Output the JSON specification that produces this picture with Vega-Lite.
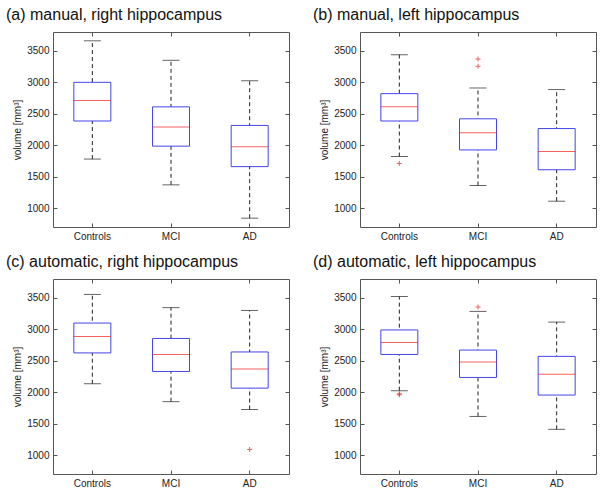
{
  "$schema": "https://vega.github.io/schema/vega-lite/v6.json",
  "padding": {"left": 5, "top": 6, "right": 5, "bottom": 5},
  "background": "white",
  "datasets": {
    "rows": [
      {"panel": "a", "group": "Controls", "kind": "box", "lo": 1780, "q1": 2385, "med": 2710, "q3": 3000, "hi": 3660},
      {"panel": "a", "group": "MCI", "kind": "box", "lo": 1370, "q1": 1985, "med": 2290, "q3": 2610, "hi": 3350},
      {"panel": "a", "group": "AD", "kind": "box", "lo": 840, "q1": 1660, "med": 1975, "q3": 2315, "hi": 3025},
      {"panel": "b", "group": "Controls", "kind": "box", "lo": 1820, "q1": 2385, "med": 2610, "q3": 2820, "hi": 3440},
      {"panel": "b", "group": "MCI", "kind": "box", "lo": 1360, "q1": 1925, "med": 2200, "q3": 2420, "hi": 2910},
      {"panel": "b", "group": "AD", "kind": "box", "lo": 1110, "q1": 1610, "med": 1900, "q3": 2265, "hi": 2885},
      {"panel": "c", "group": "Controls", "kind": "box", "lo": 2135, "q1": 2625, "med": 2885, "q3": 3100, "hi": 3555},
      {"panel": "c", "group": "MCI", "kind": "box", "lo": 1850, "q1": 2330, "med": 2600, "q3": 2855, "hi": 3345},
      {"panel": "c", "group": "AD", "kind": "box", "lo": 1725, "q1": 2065, "med": 2370, "q3": 2640, "hi": 3300},
      {"panel": "d", "group": "Controls", "kind": "box", "lo": 2025, "q1": 2600, "med": 2790, "q3": 2990, "hi": 3520},
      {"panel": "d", "group": "MCI", "kind": "box", "lo": 1615, "q1": 2235, "med": 2480, "q3": 2670, "hi": 3285},
      {"panel": "d", "group": "AD", "kind": "box", "lo": 1410, "q1": 1955, "med": 2285, "q3": 2570, "hi": 3115},
      {"panel": "b", "group": "Controls", "kind": "outlier", "value": 1710},
      {"panel": "b", "group": "MCI", "kind": "outlier", "value": 3370},
      {"panel": "b", "group": "MCI", "kind": "outlier", "value": 3255},
      {"panel": "c", "group": "AD", "kind": "outlier", "value": 1090},
      {"panel": "d", "group": "Controls", "kind": "outlier", "value": 1960},
      {"panel": "d", "group": "Controls", "kind": "outlier", "value": 1975},
      {"panel": "d", "group": "MCI", "kind": "outlier", "value": 3355}
    ]
  },
  "columns": 2,
  "spacing": {"column": 22, "row": 11},
  "concat": [
    {
      "title": {"text": "(a) manual, right hippocampus"},
      "width": 236, "height": 195,
      "data": {"name": "rows"},
      "transform": [{"filter": "datum.panel == 'a'"}],
      "encoding": {
        "x": {"field": "group", "type": "nominal", "scale": {"domain": ["Controls", "MCI", "AD"], "paddingInner": 0, "paddingOuter": 0}, "axis": null}
      },
      "layer": [
        {"transform": [{"filter": "datum.kind == 'box'"}], "mark": {"type": "rule", "strokeDash": [4, 3], "color": "#222", "strokeWidth": 1},
         "encoding": {"x": {"field": "group", "type": "nominal", "axis": {"orient": "bottom", "title": null}}, "y": {"field": "lo", "type": "quantitative", "scale": {"domain": [700, 3800], "nice": false}, "axis": {"orient": "left", "title": "volume [mm³]"}}, "y2": {"field": "hi"}}},
        {"transform": [{"filter": "datum.kind == 'box'"}], "mark": {"type": "tick", "color": "#222", "size": 17, "thickness": 1},
         "encoding": {"y": {"field": "lo", "type": "quantitative", "axis": null}}},
        {"transform": [{"filter": "datum.kind == 'box'"}], "mark": {"type": "tick", "color": "#222", "size": 17, "thickness": 1},
         "encoding": {"y": {"field": "hi", "type": "quantitative", "axis": null}}},
        {"transform": [{"filter": "datum.kind == 'box'"}], "mark": {"type": "bar", "size": 37, "fill": "white", "stroke": "#4545e8", "strokeWidth": 1},
         "encoding": {"x": {"field": "group", "type": "nominal", "axis": {"orient": "top", "title": null, "labels": false}}, "y": {"field": "q1", "type": "quantitative", "axis": {"orient": "right", "title": null, "labels": false}}, "y2": {"field": "q3"}}},
        {"transform": [{"filter": "datum.kind == 'box'"}], "mark": {"type": "tick", "color": "#f02020", "size": 37, "thickness": 1},
         "encoding": {"y": {"field": "med", "type": "quantitative", "axis": null}}},
        {"transform": [{"filter": "datum.kind == 'outlier'"}], "mark": {"type": "point", "shape": "M-1,0L1,0M0,-1L0,1", "size": 25, "filled": false, "stroke": "#e02020", "strokeWidth": 1},
         "encoding": {"y": {"field": "value", "type": "quantitative", "axis": null}}}
      ],
      "resolve": {"axis": {"x": "independent", "y": "independent"}}
    },
    {
      "title": {"text": "(b) manual, left hippocampus"},
      "width": 236, "height": 195,
      "data": {"name": "rows"},
      "transform": [{"filter": "datum.panel == 'b'"}],
      "encoding": {
        "x": {"field": "group", "type": "nominal", "scale": {"domain": ["Controls", "MCI", "AD"], "paddingInner": 0, "paddingOuter": 0}, "axis": null}
      },
      "layer": [
        {"transform": [{"filter": "datum.kind == 'box'"}], "mark": {"type": "rule", "strokeDash": [4, 3], "color": "#222", "strokeWidth": 1},
         "encoding": {"x": {"field": "group", "type": "nominal", "axis": {"orient": "bottom", "title": null}}, "y": {"field": "lo", "type": "quantitative", "scale": {"domain": [700, 3800], "nice": false}, "axis": {"orient": "left", "title": "volume [mm³]"}}, "y2": {"field": "hi"}}},
        {"transform": [{"filter": "datum.kind == 'box'"}], "mark": {"type": "tick", "color": "#222", "size": 17, "thickness": 1},
         "encoding": {"y": {"field": "lo", "type": "quantitative", "axis": null}}},
        {"transform": [{"filter": "datum.kind == 'box'"}], "mark": {"type": "tick", "color": "#222", "size": 17, "thickness": 1},
         "encoding": {"y": {"field": "hi", "type": "quantitative", "axis": null}}},
        {"transform": [{"filter": "datum.kind == 'box'"}], "mark": {"type": "bar", "size": 37, "fill": "white", "stroke": "#4545e8", "strokeWidth": 1},
         "encoding": {"x": {"field": "group", "type": "nominal", "axis": {"orient": "top", "title": null, "labels": false}}, "y": {"field": "q1", "type": "quantitative", "axis": {"orient": "right", "title": null, "labels": false}}, "y2": {"field": "q3"}}},
        {"transform": [{"filter": "datum.kind == 'box'"}], "mark": {"type": "tick", "color": "#f02020", "size": 37, "thickness": 1},
         "encoding": {"y": {"field": "med", "type": "quantitative", "axis": null}}},
        {"transform": [{"filter": "datum.kind == 'outlier'"}], "mark": {"type": "point", "shape": "M-1,0L1,0M0,-1L0,1", "size": 25, "filled": false, "stroke": "#e02020", "strokeWidth": 1},
         "encoding": {"y": {"field": "value", "type": "quantitative", "axis": null}}}
      ],
      "resolve": {"axis": {"x": "independent", "y": "independent"}}
    },
    {
      "title": {"text": "(c) automatic, right hippocampus"},
      "width": 236, "height": 195,
      "data": {"name": "rows"},
      "transform": [{"filter": "datum.panel == 'c'"}],
      "encoding": {
        "x": {"field": "group", "type": "nominal", "scale": {"domain": ["Controls", "MCI", "AD"], "paddingInner": 0, "paddingOuter": 0}, "axis": null}
      },
      "layer": [
        {"transform": [{"filter": "datum.kind == 'box'"}], "mark": {"type": "rule", "strokeDash": [4, 3], "color": "#222", "strokeWidth": 1},
         "encoding": {"x": {"field": "group", "type": "nominal", "axis": {"orient": "bottom", "title": null}}, "y": {"field": "lo", "type": "quantitative", "scale": {"domain": [700, 3800], "nice": false}, "axis": {"orient": "left", "title": "volume [mm³]"}}, "y2": {"field": "hi"}}},
        {"transform": [{"filter": "datum.kind == 'box'"}], "mark": {"type": "tick", "color": "#222", "size": 17, "thickness": 1},
         "encoding": {"y": {"field": "lo", "type": "quantitative", "axis": null}}},
        {"transform": [{"filter": "datum.kind == 'box'"}], "mark": {"type": "tick", "color": "#222", "size": 17, "thickness": 1},
         "encoding": {"y": {"field": "hi", "type": "quantitative", "axis": null}}},
        {"transform": [{"filter": "datum.kind == 'box'"}], "mark": {"type": "bar", "size": 37, "fill": "white", "stroke": "#4545e8", "strokeWidth": 1},
         "encoding": {"x": {"field": "group", "type": "nominal", "axis": {"orient": "top", "title": null, "labels": false}}, "y": {"field": "q1", "type": "quantitative", "axis": {"orient": "right", "title": null, "labels": false}}, "y2": {"field": "q3"}}},
        {"transform": [{"filter": "datum.kind == 'box'"}], "mark": {"type": "tick", "color": "#f02020", "size": 37, "thickness": 1},
         "encoding": {"y": {"field": "med", "type": "quantitative", "axis": null}}},
        {"transform": [{"filter": "datum.kind == 'outlier'"}], "mark": {"type": "point", "shape": "M-1,0L1,0M0,-1L0,1", "size": 25, "filled": false, "stroke": "#e02020", "strokeWidth": 1},
         "encoding": {"y": {"field": "value", "type": "quantitative", "axis": null}}}
      ],
      "resolve": {"axis": {"x": "independent", "y": "independent"}}
    },
    {
      "title": {"text": "(d) automatic, left hippocampus"},
      "width": 236, "height": 195,
      "data": {"name": "rows"},
      "transform": [{"filter": "datum.panel == 'd'"}],
      "encoding": {
        "x": {"field": "group", "type": "nominal", "scale": {"domain": ["Controls", "MCI", "AD"], "paddingInner": 0, "paddingOuter": 0}, "axis": null}
      },
      "layer": [
        {"transform": [{"filter": "datum.kind == 'box'"}], "mark": {"type": "rule", "strokeDash": [4, 3], "color": "#222", "strokeWidth": 1},
         "encoding": {"x": {"field": "group", "type": "nominal", "axis": {"orient": "bottom", "title": null}}, "y": {"field": "lo", "type": "quantitative", "scale": {"domain": [700, 3800], "nice": false}, "axis": {"orient": "left", "title": "volume [mm³]"}}, "y2": {"field": "hi"}}},
        {"transform": [{"filter": "datum.kind == 'box'"}], "mark": {"type": "tick", "color": "#222", "size": 17, "thickness": 1},
         "encoding": {"y": {"field": "lo", "type": "quantitative", "axis": null}}},
        {"transform": [{"filter": "datum.kind == 'box'"}], "mark": {"type": "tick", "color": "#222", "size": 17, "thickness": 1},
         "encoding": {"y": {"field": "hi", "type": "quantitative", "axis": null}}},
        {"transform": [{"filter": "datum.kind == 'box'"}], "mark": {"type": "bar", "size": 37, "fill": "white", "stroke": "#4545e8", "strokeWidth": 1},
         "encoding": {"x": {"field": "group", "type": "nominal", "axis": {"orient": "top", "title": null, "labels": false}}, "y": {"field": "q1", "type": "quantitative", "axis": {"orient": "right", "title": null, "labels": false}}, "y2": {"field": "q3"}}},
        {"transform": [{"filter": "datum.kind == 'box'"}], "mark": {"type": "tick", "color": "#f02020", "size": 37, "thickness": 1},
         "encoding": {"y": {"field": "med", "type": "quantitative", "axis": null}}},
        {"transform": [{"filter": "datum.kind == 'outlier'"}], "mark": {"type": "point", "shape": "M-1,0L1,0M0,-1L0,1", "size": 25, "filled": false, "stroke": "#e02020", "strokeWidth": 1},
         "encoding": {"y": {"field": "value", "type": "quantitative", "axis": null}}}
      ],
      "resolve": {"axis": {"x": "independent", "y": "independent"}}
    }
  ],
  "config": {
    "font": "Liberation Sans",
    "view": {"stroke": "#555", "strokeWidth": 1},
    "title": {"anchor": "start", "frame": "group", "dx": -47, "offset": 9, "fontSize": 16, "fontWeight": "normal", "font": "Liberation Sans", "color": "#111"},
    "axis": {"grid": false, "domain": false, "tickSize": -4, "tickColor": "#555", "labelPadding": 8, "labelFont": "Liberation Sans", "labelFontSize": 10, "labelColor": "#222", "titleFont": "Liberation Sans", "titleFontSize": 10, "titleFontWeight": "normal", "titleColor": "#222", "titlePadding": 4},
    "axisY": {"values": [1000, 1500, 2000, 2500, 3000, 3500], "format": "d"},
    "axisX": {"labelAngle": 0}
  }
}
